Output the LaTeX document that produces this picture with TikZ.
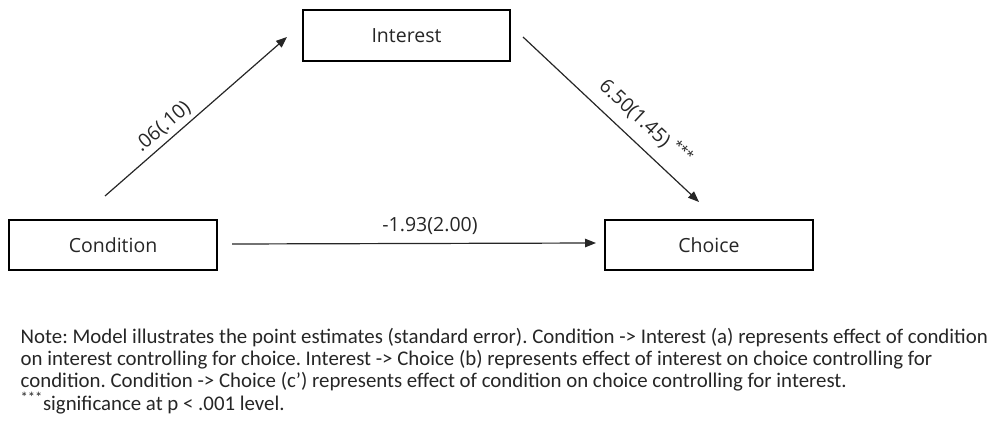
\documentclass[tikz,border=0pt]{standalone}
\usepackage{fontspec}
\setmainfont{Carlito}
\newfontfamily\diagfont{Open Sans}
\usetikzlibrary{arrows.meta}
\tikzset{
  box/.style={draw=black, line width=1.3pt, rectangle, inner sep=0pt,
    font=\diagfont\fontsize{19.5}{23}\selectfont, text=black!85},
  conn/.style={line width=1.2pt, draw=black!85, -{Triangle[length=11pt,width=8.5pt]}},
  lbl/.style={font=\diagfont\fontsize{19.5}{23}\selectfont, text=black!85, inner sep=0pt},
  notetext/.style={font=\frenchspacing\fontsize{20.85}{22.2}\selectfont, text=black!85, align=left, inner sep=0pt}
}
\begin{document}
\begin{tikzpicture}[x=1pt,y=-1pt]
\useasboundingbox (0,0) rectangle (992,422);
\node[box, minimum width=207pt, minimum height=51pt] (int) at (406.5,35.5) {Interest};
\node[box, minimum width=208pt, minimum height=50pt] (cond) at (113,245) {Condition};
\node[box, minimum width=208pt, minimum height=50pt] (cho) at (709,245) {Choice};
\coordinate (a1) at (105,196);
\coordinate (a2) at (287,37);
\coordinate (b1) at (523,37);
\coordinate (b2) at (699,202);
\coordinate (c1) at (232,244);
\coordinate (c2) at (596,243);
\draw[conn] (a1) -- (a2);
\draw[conn] (b1) -- (b2);
\draw[conn] (c1) -- (c2);
\node[lbl, rotate=41] (la) at (163,127) {.06(.10)};
\node[lbl, rotate=-43] (lb) at (646,122) {6.50(1.45) \textsuperscript{***}};
\node[lbl] (lc) at (430,226) {-1.93(2.00)};
\node[notetext, anchor=north west] (note) at (20.5,328) {Note: Model illustrates the point estimates (standard error). Condition -> Interest (a) represents effect of condition\\
on interest controlling for choice. Interest -> Choice (b) represents effect of interest on choice controlling for\\
condition. Condition -> Choice (c’) represents effect of condition on choice controlling for interest.\\
\textsuperscript{***}significance at p < .001 level.};
\end{tikzpicture}
\end{document}
